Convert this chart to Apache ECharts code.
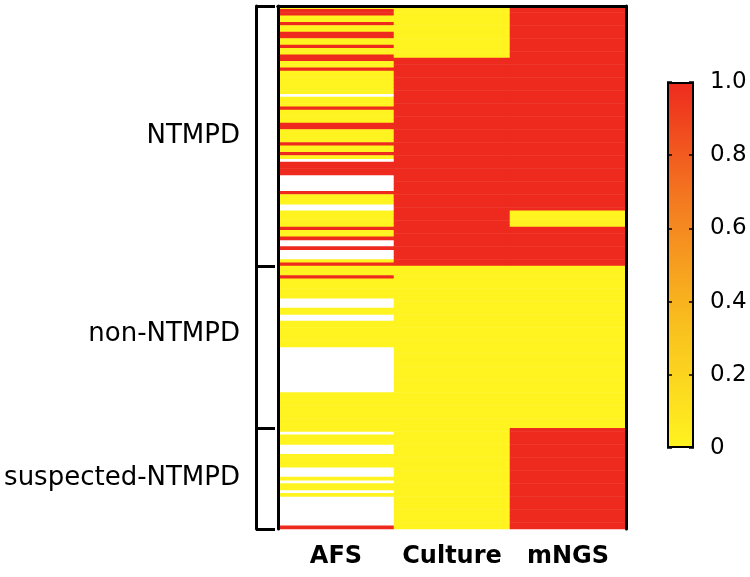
<!DOCTYPE html>
<html>
<head>
<meta charset="utf-8">
<script src="https://cdn.jsdelivr.net/npm/echarts@6/dist/echarts.min.js"></script>
<style>html,body{margin:0;padding:0;background:#fff}#chart{width:750px;height:577px}</style>
</head>
<body>
<div id="chart"></div>
<script>
// ---- data ----
const methods = ['AFS', 'Culture', 'mNGS'];
const groupNames = ['NTMPD', 'non-NTMPD', 'suspected-NTMPD'];
const groupSizes = [80, 50, 31];
const groupLabelRows = [40, 101, 145.5];
const colorbarTicks = ['0', '0.2', '0.4', '0.6', '0.8', '1.0'];

// 1 = positive, 0 = negative, null = not done
const afsNTMPD = [0,1,1,0,0,1,0,0,1,1,
  0,0,1,0,0,1,1,0,0,1,
  0,0,0,0,0,0,0,null,0,0,
  0,1,0,0,0,0,1,1,0,0,
  0,0,1,0,0,1,0,null,1,1,
  1,1,null,null,null,null,null,1,0,0,
  0,null,null,0,0,0,0,0,1,0,
  0,1,null,null,1,null,null,null,0,1];
const afsNon = [0,0,0,1,0,0,0,0,0,0,
  null,null,null,0,0,null,null,0,0,0,
  0,0,0,0,0,null,null,null,null,null,
  null,null,null,null,null,null,null,null,null,0,
  0,0,0,0,0,0,0,0,0,0];
const afsSusp = [0,null,0,0,0,null,null,null,0,0,
  0,0,null,null,null,0,null,0,0,null,
  0,null,null,null,null,null,null,null,null,null,
  1];

const cultureNTMPD = [0,0,0,0,0,0,0,0,0,0,
  0,0,0,0,0,0,1,1,1,1,
  1,1,1,1,1,1,1,1,1,1,
  1,1,1,1,1,1,1,1,1,1,
  1,1,1,1,1,1,1,1,1,1,
  1,1,1,1,1,1,1,1,1,1,
  1,1,1,1,1,1,1,1,1,1,
  1,1,1,1,1,1,1,1,1,1];
const cultureNon = [0,0,0,0,0,0,0,0,0,0,
  0,0,0,0,0,0,0,0,0,0,
  0,0,0,0,0,0,0,0,0,0,
  0,0,0,0,0,0,0,0,0,0,
  0,0,0,0,0,0,0,0,0,0];
const cultureSusp = [0,0,0,0,0,0,0,0,0,0,
  0,0,0,0,0,0,0,0,0,0,
  0,0,0,0,0,0,0,0,0,0,
  0];

const mngsNTMPD = [1,1,1,1,1,1,1,1,1,1,
  1,1,1,1,1,1,1,1,1,1,
  1,1,1,1,1,1,1,1,1,1,
  1,1,1,1,1,1,1,1,1,1,
  1,1,1,1,1,1,1,1,1,1,
  1,1,1,1,1,1,1,1,1,1,
  1,1,1,0,0,0,0,0,1,1,
  1,1,1,1,1,1,1,1,1,1];
const mngsNon = [0,0,0,0,0,0,0,0,0,0,
  0,0,0,0,0,0,0,0,0,0,
  0,0,0,0,0,0,0,0,0,0,
  0,0,0,0,0,0,0,0,0,0,
  0,0,0,0,0,0,0,0,0,0];
const mngsSusp = [1,1,1,1,1,1,1,1,1,1,
  1,1,1,1,1,1,1,1,1,1,
  1,1,1,1,1,1,1,1,1,1,
  1];

// ---- build ----
const columns = [
  afsNTMPD.concat(afsNon, afsSusp),
  cultureNTMPD.concat(cultureNon, cultureSusp),
  mngsNTMPD.concat(mngsNon, mngsSusp)
];
const nRows = groupSizes.reduce((a, b) => a + b, 0);
const rowIds = [];
for (let r = 0; r < nRows; r++) rowIds.push(String(r));
const heatData = [];
columns.forEach((col, i) => col.forEach((v, r) => {
  heatData.push([i, r, v === null ? '-' : v]);
}));
const boundaries = [0];
groupSizes.forEach((s, i) => boundaries.push(boundaries[i] + s));

const FONT = 'DejaVu Sans';
const YELLOW = '#FFF320', RED = '#EE2A1E';
const stops = [YELLOW, '#F9C01E', '#F47C20', RED];

const chart = echarts.init(document.getElementById('chart'));
chart.setOption({
  animation: false,
  backgroundColor: '#fff',
  grid: [
    { left: 278, top: 6, width: 348, height: 523 },
    { left: 667, top: 82, width: 27, height: 366 }
  ],
  xAxis: [
    { gridIndex: 0, type: 'category', data: methods, position: 'bottom', z: 10,
      axisLine: { lineStyle: { color: '#000', width: 3 } },
      axisTick: { alignWithLabel: true, length: 12, lineStyle: { color: '#000', width: 3 } },
      axisLabel: { interval: 0, color: '#000', fontFamily: FONT, fontWeight: 'bold', fontSize: 24, margin: 16 },
      splitLine: { show: false } },
    { gridIndex: 0, type: 'category', data: methods, position: 'top', z: 10,
      axisLine: { lineStyle: { color: '#000', width: 3 } },
      axisTick: { show: false }, axisLabel: { show: false } },
    { gridIndex: 1, type: 'category', data: ['scale'], show: false }
  ],
  yAxis: [
    { gridIndex: 0, type: 'category', data: rowIds, inverse: true, position: 'left', z: 10,
      axisLine: { lineStyle: { color: '#000', width: 3 } },
      axisTick: { show: false }, axisLabel: { show: false }, splitLine: { show: false } },
    { gridIndex: 0, type: 'category', data: rowIds, inverse: true, position: 'right', z: 10,
      axisLine: { lineStyle: { color: '#000', width: 3 } },
      axisTick: { show: false }, axisLabel: { show: false } },
    { gridIndex: 0, type: 'value', min: 0, max: nRows, inverse: true, position: 'left', offset: 22, z: 10,
      axisLine: { show: true, lineStyle: { color: '#000', width: 3 } },
      axisTick: { show: true, inside: true, length: 19, customValues: boundaries,
        lineStyle: { color: '#000', width: 3 } },
      axisLabel: { show: true, customValues: groupLabelRows, margin: 16,
        color: '#000', fontFamily: FONT, fontSize: 26,
        formatter: v => groupNames[groupLabelRows.indexOf(v)] || '' },
      splitLine: { show: false } },
    { gridIndex: 1, type: 'value', min: 0, max: 1, interval: 0.2, position: 'right', z: 10,
      axisLine: { show: false },
      axisTick: { show: true, inside: true, length: 5, lineStyle: { color: '#000', width: 1.5 } },
      axisLabel: { color: '#000', fontFamily: FONT, fontSize: 23, margin: 16,
        formatter: v => colorbarTicks[Math.round(v * 5)] },
      splitLine: { show: false } },
    { gridIndex: 1, type: 'value', min: 0, max: 1, interval: 0.2, position: 'left', z: 10,
      axisLine: { show: false },
      axisTick: { show: true, inside: true, length: 5, lineStyle: { color: '#000', width: 1.5 } },
      axisLabel: { show: false }, splitLine: { show: false } }
  ],
  visualMap: {
    type: 'continuous', min: 0, max: 1, show: false, seriesIndex: 0,
    inRange: { color: stops }
  },
  series: [
    { type: 'heatmap', xAxisIndex: 0, yAxisIndex: 0, data: heatData,
      itemStyle: { borderWidth: 0 }, emphasis: { disabled: true } },
    { type: 'bar', xAxisIndex: 2, yAxisIndex: 3, data: [1], barWidth: '100%', silent: true,
      itemStyle: {
        borderColor: '#000', borderWidth: 2,
        color: new echarts.graphic.LinearGradient(0, 1, 0, 0,
          stops.map((c, i) => ({ offset: i / (stops.length - 1), color: c })))
      } }
  ]
});
</script>
</body>
</html>
